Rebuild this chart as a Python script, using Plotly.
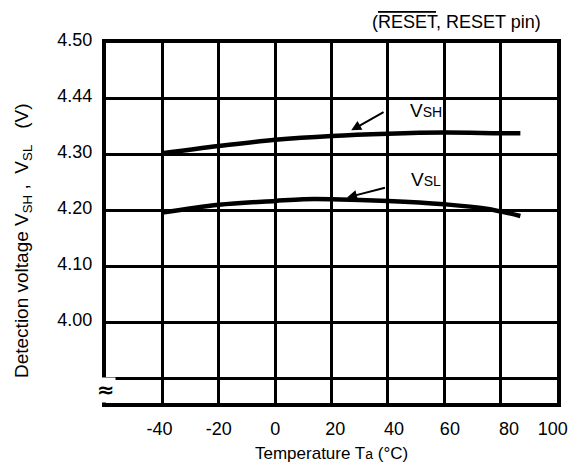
import plotly.graph_objects as go

# Data
temp_vsh = [-40, -20, 0, 20, 40, 60, 80, 87]
vsh = [4.303, 4.316, 4.327, 4.334, 4.338, 4.340, 4.339, 4.339]
temp_vsl = [-40, -20, 0, 10, 20, 40, 60, 75, 87]
vsl = [4.197, 4.211, 4.218, 4.221, 4.221, 4.218, 4.212, 4.204, 4.191]

x_grid = [-40, -20, 0, 20, 40, 60, 80]
x_label_pos = [-41, -20, 0, 21.3, 42.2, 62, 83, 98.5]
x_tick_text = ["-40", "-20", "0", "20", "40", "60", "80", "100"]
y_ticks = [3.9, 4.0, 4.1, 4.2, 4.3, 4.4, 4.5]
y_tick_text = ["", "4.00", "4.10", "4.20", "4.30", "4.44", "4.50"]

FONT = "Liberation Sans, Arial, sans-serif"
FS = 18

fig = go.Figure()
fig.add_trace(go.Scatter(x=temp_vsh, y=vsh, mode="lines",
                         line=dict(color="black", width=4.5, shape="spline"), showlegend=False))
fig.add_trace(go.Scatter(x=temp_vsl, y=vsl, mode="lines",
                         line=dict(color="black", width=4.5, shape="spline"), showlegend=False))

# arrows + labels
fig.add_annotation(x=27, y=4.344, ax=39, ay=4.378, xref="x", yref="y", axref="x", ayref="y",
                   showarrow=True, arrowhead=2, arrowsize=1, arrowwidth=2, arrowcolor="black", text="")
fig.add_annotation(x=25.5, y=4.224, ax=39.5, ay=4.242, xref="x", yref="y", axref="x", ayref="y",
                   showarrow=True, arrowhead=2, arrowsize=1, arrowwidth=2, arrowcolor="black", text="")
fig.add_annotation(x=47, y=4.379, xref="x", yref="y", showarrow=False, xanchor="left",
                   text="V<span style='font-size:14px'>SH</span>",
                   font=dict(size=19, color="black", family=FONT))
fig.add_annotation(x=47.5, y=4.257, xref="x", yref="y", showarrow=False, xanchor="left",
                   text="V<span style='font-size:14px'>SL</span>",
                   font=dict(size=19, color="black", family=FONT))

# axis break symbol
fig.add_annotation(x=0, y=3.880, xref="paper", yref="y", showarrow=False, xanchor="center", yanchor="middle",
                   text="<b>≈</b>", font=dict(size=21, color="black", family="DejaVu Sans"),
                   bgcolor="white", borderpad=0)

# title
fig.add_annotation(x=0.969, y=1.058, xref="paper", yref="paper", showarrow=False,
                   xanchor="right", yanchor="middle",
                   text="(<span style='text-decoration:overline'>RESET</span>, RESET pin)",
                   font=dict(size=FS, color="black", family=FONT))

# axis titles
fig.add_annotation(x=0.5, y=-0.139, xref="paper", yref="paper", showarrow=False,
                   xanchor="center", yanchor="middle",
                   text="Temperature T<span style='font-size:14px'>a</span> (°C)",
                   font=dict(size=17, color="black", family=FONT))
fig.add_annotation(x=-0.184, y=0.45, xref="paper", yref="paper", showarrow=False,
                   xanchor="center", yanchor="middle", textangle=-90,
                   text="Detection voltage V<sub>SH</sub>&nbsp;,&nbsp;&nbsp;V<sub>SL</sub>&nbsp;&nbsp;&nbsp;(V)",
                   font=dict(size=19, color="black", family=FONT))

fig.update_xaxes(range=[-60, 100], tickmode="array", tickvals=x_label_pos, ticktext=x_tick_text,
                 showgrid=False, zeroline=False,
                 minor=dict(tickmode="array", tickvals=x_grid, showgrid=True,
                            gridcolor="black", gridwidth=3, ticks=""),
                 showline=True, linecolor="black", linewidth=4, mirror=True, ticks="",
                 ticklabelstandoff=6,
                 tickfont=dict(size=FS, color="black", family=FONT))
fig.update_yaxes(range=[3.857, 4.5], tickvals=y_ticks, ticktext=y_tick_text,
                 showgrid=True, gridcolor="black", gridwidth=3, zeroline=False,
                 showline=True, linecolor="black", linewidth=4, mirror=True, ticks="",
                 ticklabelstandoff=6, ticklabelshift=-3,
                 tickfont=dict(size=FS, color="black", family=FONT))

fig.update_layout(width=573, height=462, margin=dict(l=98, r=24, t=35, b=67),
                  plot_bgcolor="white", paper_bgcolor="white", showlegend=False)

fig.write_html("out.html")
